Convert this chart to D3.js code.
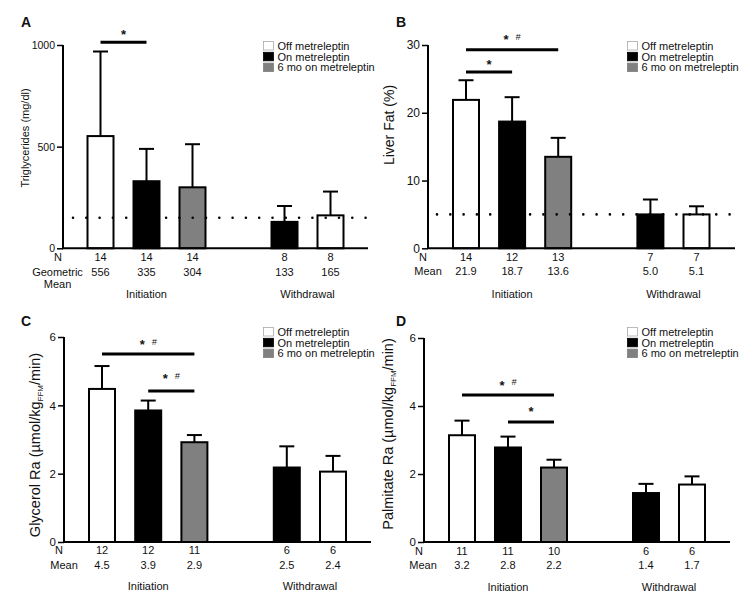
<!DOCTYPE html>
<html><head><meta charset="utf-8">
<script src="https://cdn.jsdelivr.net/npm/d3@7"></script>
<style>body{margin:0;background:#fff} text{font-family:"Liberation Sans",Arial,Helvetica,sans-serif;fill:#111}</style>
</head><body><svg id="c" width="751" height="605"></svg>
<script>
// ---------- data ----------
const legendLabels = ["Off metreleptin", "On metreleptin", "6 mo on metreleptin"];
const seriesColors = ["#ffffff", "#000000", "#808080"];
const barSeries = [0, 1, 2, 1, 0];          // legend entry of each bar
const barSlots = [0, 1, 2, 4, 5];           // slot position of each bar
const groupLabels = ["Initiation", "Withdrawal"];

const trigValues = [552, 330, 300, 130, 162];
const trigErrTop = [968, 489, 512, 208, 279];
const trigN = ["14", "14", "14", "8", "8"];
const trigMean = ["556", "335", "304", "133", "165"];
const trigTicks = [0, 500, 1000];
const trigRef = 150;

const liverValues = [21.9, 18.7, 13.5, 5.0, 5.0];
const liverErrTop = [24.8, 22.3, 16.3, 7.2, 6.2];
const liverN = ["14", "12", "13", "7", "7"];
const liverMean = ["21.9", "18.7", "13.6", "5.0", "5.1"];
const liverTicks = [0, 10, 20, 30];
const liverRef = 5;

const glyValues = [4.48, 3.85, 2.92, 2.18, 2.06];
const glyErrTop = [5.15, 4.14, 3.13, 2.80, 2.52];
const glyN = ["12", "12", "11", "6", "6"];
const glyMean = ["4.5", "3.9", "2.9", "2.5", "2.4"];
const glyTicks = [0, 2, 4, 6];

const palValues = [3.14, 2.78, 2.19, 1.44, 1.69];
const palErrTop = [3.57, 3.10, 2.42, 1.71, 1.93];
const palN = ["11", "11", "10", "6", "6"];
const palMean = ["3.2", "2.8", "2.2", "1.4", "1.7"];
const palTicks = [0, 2, 4, 6];

// significance brackets: [fromBar, toBar, level, label]
const trigSig = [[0, 1, 1013, "*"]];
const liverSig = [[0, 2, 29.3, "* #"], [0, 1, 26.0, "*"]];
const glySig = [[0, 2, 5.50, "* #"], [1, 2, 4.42, "* #"]];
const palSig = [[0, 2, 4.32, "* #"], [1, 2, 3.53, "*"]];

// ---------- drawing ----------
const svg = d3.select("#c");

const panels = [
  {letter: "A", lx: 21, ly: 27, axisX: 63, axisEnd: 368, y0: 248.3, yTop: 45, max: 1000,
   ticks: trigTicks, tickFont: 10.5, c0: 100.5, c5: 330.5,
   values: trigValues, errs: trigErrTop, n: trigN, mean: trigMean,
   meanLabel: ["Geometric", "Mean"], meanLabelX: 57.5, rowY: [261, 275.5, 288], groupY: 298,
   ref: trigRef, refX: [73, 367], sig: trigSig, sigOff: [11],
   legX: 263, legY: 41, ylabel: ["Triglycerides (mg/dl)"], yl: [25, 138], ylFont: 11},
  {letter: "B", lx: 396, ly: 27, axisX: 428, axisEnd: 735, y0: 248.3, yTop: 45, max: 30,
   ticks: liverTicks, tickFont: 12, c0: 466, c5: 696.5,
   values: liverValues, errs: liverErrTop, n: liverN, mean: liverMean,
   meanLabel: ["Mean"], meanLabelX: 428, rowY: [261, 275], groupY: 298,
   ref: liverRef, refX: [437, 734], sig: liverSig, sigOff: [13, 11],
   legX: 627, legY: 41, ylabel: ["Liver Fat (%)"], yl: [389, 125], ylFont: 14},
  {letter: "C", lx: 21, ly: 326, axisX: 64, axisEnd: 371, y0: 542, yTop: 337, max: 6,
   ticks: glyTicks, tickFont: 11.5, c0: 102, c5: 333,
   values: glyValues, errs: glyErrTop, n: glyN, mean: glyMean,
   meanLabel: ["Mean"], meanLabelX: 64, rowY: [554, 569], groupY: 590,
   ref: null, sig: glySig, sigOff: [12, 15],
   legX: 263, legY: 327, ylabel: ["Glycerol Ra (", "µmol/kg", "FFM", "/min)"], yl: [35, 445], ylFont: 14.5},
  {letter: "D", lx: 396, ly: 326, axisX: 424, axisEnd: 730, y0: 542, yTop: 338, max: 6,
   ticks: palTicks, tickFont: 11.5, c0: 462, c5: 692,
   values: palValues, errs: palErrTop, n: palN, mean: palMean,
   meanLabel: ["Mean"], meanLabelX: 423, rowY: [555, 569], groupY: 591,
   ref: null, sig: palSig, sigOff: [13, 13],
   legX: 627, legY: 327, ylabel: ["Palmitate Ra (", "µmol/kg", "FFM", "/min)"], yl: [388, 434], ylFont: 14.5}
];

const barW = 28;

panels.forEach(p => {
  const g = svg.append("g");
  const y = d3.scaleLinear().domain([0, p.max]).range([p.y0, p.yTop]);
  const x = d3.scaleLinear().domain([0, 5]).range([p.c0, p.c5]);

  // panel letter
  g.append("text").attr("x", p.lx).attr("y", p.ly).text(p.letter)
    .style("font-size", "14px").style("font-weight", "bold");

  // bars
  const bars = p.values.map((v, i) => ({v, e: p.errs[i], s: barSeries[i], slot: barSlots[i]}));
  // error bars
  g.selectAll(".err").data(bars).enter().append("line")
    .attr("x1", d => x(d.slot)).attr("x2", d => x(d.slot))
    .attr("y1", d => y(d.v)).attr("y2", d => y(d.e))
    .attr("stroke", "#000").attr("stroke-width", 2);
  g.selectAll(".cap").data(bars).enter().append("line")
    .attr("x1", d => x(d.slot) - 7.5).attr("x2", d => x(d.slot) + 7.5)
    .attr("y1", d => y(d.e)).attr("y2", d => y(d.e))
    .attr("stroke", "#000").attr("stroke-width", 2);
  g.selectAll(".bar").data(bars).enter().append("rect")
    .attr("x", d => x(d.slot) - barW / 2 + 1).attr("width", barW - 2)
    .attr("y", d => y(d.v)).attr("height", d => y(0) - y(d.v))
    .attr("fill", d => seriesColors[d.s]).attr("stroke", "#000").attr("stroke-width", 2);

  // reference dotted line
  if (p.ref !== null) {
    g.append("line").attr("x1", p.refX[0]).attr("x2", p.refX[1])
      .attr("y1", y(p.ref)).attr("y2", y(p.ref))
      .attr("stroke", "#000").attr("stroke-width", 2.6).attr("stroke-linecap", "round")
      .attr("stroke-dasharray", "0 13.3");
  }

  // y axis
  const yAxis = d3.axisLeft(y).tickValues(p.ticks).tickFormat(d3.format("d"))
    .tickSize(6).tickPadding(2).tickSizeOuter(0);
  const ya = g.append("g").attr("transform", `translate(${p.axisX},0)`).call(yAxis);
  ya.select(".domain").attr("stroke-width", 2).attr("d", `M0,${p.y0}V${p.yTop}`);
  ya.selectAll(".tick line").attr("stroke-width", 1.5);
  ya.selectAll(".tick text").style("font-size", p.tickFont + "px")
    .style("font-family", '"Liberation Sans",Arial,sans-serif').attr("fill", "#111");
  // x axis baseline
  g.append("line").attr("x1", p.axisX - 1).attr("x2", p.axisEnd)
    .attr("y1", p.y0).attr("y2", p.y0).attr("stroke", "#000").attr("stroke-width", 2);

  // y label
  const yl = g.append("text").attr("transform", `translate(${p.yl[0]},${p.yl[1]}) rotate(-90)`)
    .attr("text-anchor", "middle").attr("dy", "0.35em").style("font-size", p.ylFont + "px");
  if (p.ylabel.length === 1) {
    yl.text(p.ylabel[0]);
  } else {
    yl.append("tspan").text(p.ylabel[0]);
    yl.append("tspan").text(p.ylabel[1]);
    yl.append("tspan").text(p.ylabel[2]).style("font-size", (p.ylFont * 0.55) + "px").attr("dy", 3);
    yl.append("tspan").text(p.ylabel[3]).attr("dy", -3);
  }

  // significance brackets
  p.sig.forEach((s, k) => {
    const xa = x(barSlots[s[0]]), xb = x(barSlots[s[1]]);
    const ly = y(s[2]);
    g.append("line").attr("x1", xa).attr("x2", xb).attr("y1", ly).attr("y2", ly)
      .attr("stroke", "#000").attr("stroke-width", 3);
    const cx = (xa + xb) / 2, cy = ly - p.sigOff[k];
    const parts = s[3].split(" ");
    if (parts.length === 1) {
      g.append("text").attr("x", cx).attr("y", cy + 7.4).attr("text-anchor", "middle")
        .style("font-size", "13px").style("font-weight", "bold").text(parts[0]);
    } else {
      g.append("text").attr("x", cx - 6).attr("y", cy + 7.4).attr("text-anchor", "middle")
        .style("font-size", "13px").style("font-weight", "bold").text(parts[0]);
      g.append("text").attr("x", cx + 6).attr("y", cy + 3.3).attr("text-anchor", "middle")
        .style("font-size", "9px").style("font-style", "italic").text(parts[1]);
    }
  });

  // N / mean rows
  g.append("text").attr("x", p.axisX - 1).attr("y", p.rowY[0]).attr("text-anchor", "end")
    .style("font-size", "11px").text("N");
  p.meanLabel.forEach((t, i) => {
    g.append("text").attr("x", p.meanLabelX).attr("y", p.rowY[1 + i]).attr("text-anchor", "middle")
      .style("font-size", "11px").text(t);
  });
  g.selectAll(".nv").data(bars).enter().append("text")
    .attr("x", d => x(d.slot)).attr("y", p.rowY[0]).attr("text-anchor", "middle")
    .style("font-size", "11px").text((d, i) => p.n[i]);
  g.selectAll(".mv").data(bars).enter().append("text")
    .attr("x", d => x(d.slot)).attr("y", p.rowY[1]).attr("text-anchor", "middle")
    .style("font-size", "11px").text((d, i) => p.mean[i]);
  g.append("text").attr("x", x(1)).attr("y", p.groupY).attr("text-anchor", "middle")
    .style("font-size", "11px").text(groupLabels[0]);
  g.append("text").attr("x", x(4.5)).attr("y", p.groupY).attr("text-anchor", "middle")
    .style("font-size", "11px").text(groupLabels[1]);

  // legend
  legendLabels.forEach((t, i) => {
    const ry = p.legY + i * 10.8;
    g.append("rect").attr("x", p.legX + 0.5).attr("y", ry + 0.5).attr("width", 10).attr("height", 8.5)
      .attr("fill", seriesColors[i]).attr("stroke", i === 0 ? "#aaa" : seriesColors[i]).attr("stroke-width", 0.8);
    g.append("text").attr("x", p.legX + 14.5).attr("y", ry + 8.8)
      .style("font-size", "11px").text(t);
  });
});
</script>
</body></html>
